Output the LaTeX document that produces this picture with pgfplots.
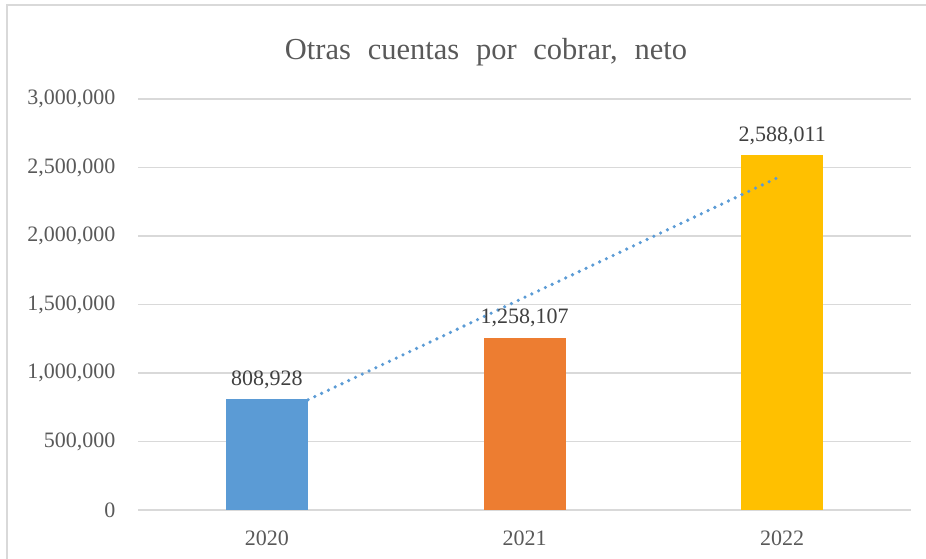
\documentclass[border=0pt]{standalone}
\usepackage{pgfplots}
\pgfplotsset{compat=1.18}
\usepackage{fontspec}
\setmainfont{Liberation Serif}
\newfontfamily\titlefont[WordSpace=2.2]{Liberation Serif}
\definecolor{gridc}{HTML}{D9D9D9}
\definecolor{txt}{HTML}{595959}
\definecolor{lab}{HTML}{404040}
\definecolor{cb}{HTML}{5B9BD5}
\definecolor{co}{HTML}{ED7D31}
\definecolor{cy}{HTML}{FFC000}
\begin{document}
\begin{tikzpicture}[x=1pt,y=1pt]
\path[use as bounding box] (0,0) rectangle (926,559);
\draw[gridc,line width=2pt] (7,0) -- (7,554) -- (926,554);
\begin{axis}[
  at={(138pt,49pt)}, anchor=south west,
  scale only axis, width=773pt, height=411pt,
  xmin=0.5, xmax=3.5, ymin=0, ymax=3000000,
  xtick={1,2,3}, xticklabels={2020,2021,2022},
  ytick={0,500000,1000000,1500000,2000000,2500000,3000000},
  scaled y ticks=false,
  /pgf/number format/.cd, fixed, 1000 sep={,}, assume math mode=true,
  /pgfplots/.cd,
  axis line style={draw=none},
  axis x line*=bottom,
  major tick length=0pt,
  ymajorgrids, grid style={gridc, line width=1.5pt},
  ticklabel style={font=\fontsize{22}{26}\selectfont, text=txt},
  yticklabel style={xshift=-19pt},
  xticklabel style={yshift=-17pt},
  ybar, bar width=82pt, bar shift=0pt,
  nodes near coords,
  point meta=explicit symbolic,
  every node near coord/.append style={font=\fontsize{22}{26}\selectfont, text=lab, yshift=7pt},
  clip=false,
]
\draw[gridc, line width=1.5pt] (axis cs:0.5,0) -- (axis cs:3.5,0);
\addplot[fill=cb, draw=none] table[x=x,y=y,meta=lab] {
x y lab
1 808928 808,928
};
\addplot[fill=co, draw=none] table[x=x,y=y,meta=lab] {
x y lab
2 1258107 1,258,107
};
\addplot[fill=cy, draw=none] table[x=x,y=y,meta=lab] {
x y lab
3 2588011 2,588,011
};
\addplot[sharp plot, cb, line width=3.6pt, line cap=round, dash pattern=on 0pt off 7.5pt, nodes near coords={}, mark=none] coordinates {(1.16,804467) (3,2441224)};
\end{axis}
\node[text=txt, font=\titlefont\fontsize{30.5}{36}\selectfont] at (486,507) {Otras cuentas por cobrar, neto};
\end{tikzpicture}
\end{document}
